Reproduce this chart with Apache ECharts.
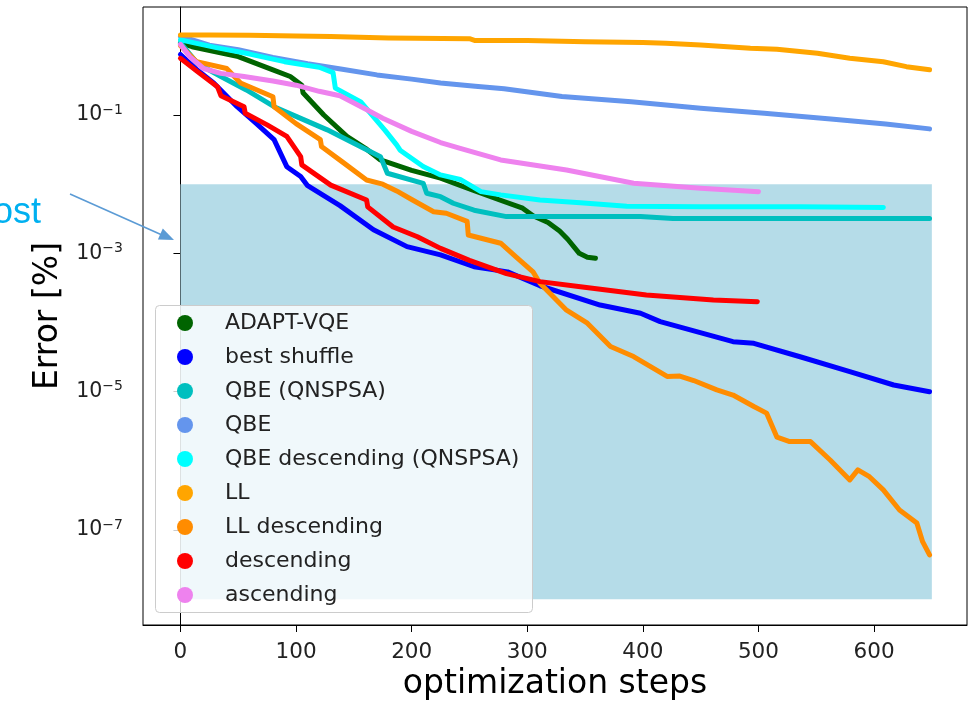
<!DOCTYPE html>
<html>
<head>
<meta charset="utf-8">
<title>Error vs optimization steps</title>
<script src="https://cdn.jsdelivr.net/npm/echarts@6/dist/echarts.min.js"></script>
<style>
  html, body { margin: 0; padding: 0; background: #fff; }
  #chart { width: 974px; height: 704px; }
</style>
</head>
<body>
<div id="chart"></div>
<script>
// values: [step, error %]
const adaptVqe = [[0,1.10],[10,0.97],[50,0.70],[80,0.45],[95,0.36],[105,0.27],[106,0.21],[124,0.10],[144,0.049],[160,0.033],[173,0.0224],[200,0.0158],[225,0.0122],[253,0.0082],[275,0.0060],[296,0.0045],[305,0.0035],[318,0.0028],[328,0.0021],[335,0.0016],[345,0.0010],[352,0.00088],[359,0.00085]];
const bestShuffle = [[0,0.75],[15,0.44],[29,0.287],[49,0.132],[65,0.077],[81,0.044],[87,0.027],[92,0.0179],[104,0.0129],[110,0.0095],[138,0.0049],[167,0.0022],[196,0.00125],[225,0.00095],[254,0.00064],[283,0.00054],[311,0.00034],[363,0.000179],[398,0.000136],[415,0.000103],[478,0.0000528],[496,0.00005],[536,0.000032],[579,0.0000195],[617,0.0000125],[648,0.00001]];
const qbeQnspsa = [[0,1.1],[15,0.55],[35,0.36],[57,0.23],[81,0.132],[101,0.094],[127,0.061],[150,0.039],[173,0.025],[179,0.0144],[210,0.0103],[213,0.0074],[225,0.0066],[236,0.0053],[254,0.0042],[282,0.0034],[328,0.0034],[398,0.0034],[426,0.0032],[648,0.0032]];
const qbe = [[0,1.38],[25,1.02],[50,0.88],[80,0.68],[110,0.55],[140,0.46],[170,0.38],[200,0.33],[225,0.29],[255,0.26],[280,0.24],[330,0.185],[390,0.156],[450,0.125],[505,0.106],[565,0.087],[610,0.074],[648,0.063]];
const qbeDescQnspsa = [[0,1.22],[30,0.95],[60,0.76],[90,0.59],[120,0.49],[132,0.41],[134,0.245],[156,0.155],[177,0.06],[187,0.037],[190,0.031],[210,0.018],[225,0.0136],[242,0.0117],[260,0.0078],[277,0.0070],[311,0.0059],[346,0.0054],[386,0.0048],[450,0.0047],[536,0.0047],[608,0.0046]];
const ll = [[0,1.44],[25,1.44],[60,1.42],[100,1.39],[130,1.37],[180,1.30],[250,1.27],[255,1.19],[300,1.19],[350,1.15],[400,1.12],[420,1.09],[450,1.03],[493,0.92],[516,0.89],[551,0.78],[579,0.66],[608,0.59],[628,0.50],[648,0.45]];
const llDescending = [[0,1.0],[14,0.59],[40,0.47],[52,0.29],[80,0.184],[81,0.132],[100,0.075],[121,0.044],[122,0.035],[140,0.021],[161,0.0115],[175,0.0100],[187,0.0080],[200,0.0060],[219,0.0040],[230,0.0038],[248,0.0029],[249,0.00184],[277,0.0014],[290,0.0009],[305,0.00054],[311,0.00037],[334,0.000151],[352,0.0000977],[372,0.0000449],[392,0.0000322],[421,0.0000166],[432,0.0000168],[444,0.0000145],[464,0.0000106],[478,0.00000895],[496,0.0000061],[507,0.0000049],[516,0.0000022],[527,0.0000019],[545,0.0000019],[562,0.00000103],[579,0.00000053],[586,0.00000074],[596,0.00000059],[608,0.00000038],[622,0.000000195],[637,0.000000126],[642,0.0000000678],[648,0.0000000436]];
const descending = [[0,0.66],[15,0.42],[32,0.257],[35,0.19],[55,0.132],[56,0.106],[75,0.072],[92,0.049],[104,0.025],[105,0.019],[130,0.0097],[161,0.0059],[162,0.0047],[184,0.0024],[205,0.00174],[225,0.00118],[250,0.00079],[282,0.00051],[311,0.00039],[346,0.00033],[403,0.00025],[461,0.000211],[499,0.0002]];
const ascending = [[0,1.05],[8,0.70],[20,0.47],[35,0.40],[55,0.36],[80,0.31],[100,0.27],[120,0.22],[138,0.19],[160,0.122],[175,0.09],[200,0.058],[225,0.040],[242,0.033],[277,0.0224],[334,0.016],[392,0.0103],[450,0.0087],[500,0.0078]];

const seriesNames = ['ADAPT-VQE', 'best shuffle', 'QBE (QNSPSA)', 'QBE', 'QBE descending (QNSPSA)', 'LL', 'LL descending', 'descending', 'ascending'];
const seriesData = [adaptVqe, bestShuffle, qbeQnspsa, qbe, qbeDescQnspsa, ll, llDescending, descending, ascending];
const seriesColors = ['#006400', '#0000ff', '#00bfbf', '#6495ed', '#00ffff', '#ffa500', '#ff8c00', '#ff0000', '#ee82ee'];

const xTicks = [0, 100, 200, 300, 400, 500, 600];
const yTicks = [1e-1, 1e-3, 1e-5, 1e-7];
// shaded target region
const boxSteps = [0, 650];
const boxErrors = [1e-8, 1e-2];

const font = 'DejaVu Sans';
const chart = echarts.init(document.getElementById('chart'));

const series = seriesNames.map((name, i) => {
    const s = {
        name: name,
        type: 'line',
        data: seriesData[i],
        color: seriesColors[i],
        showSymbol: false,
        symbol: 'circle',
        lineStyle: { width: 5, cap: 'round', join: 'round' },
        z: 2
    };
    if (i === 0) {
        s.markArea = {
            silent: true,
            itemStyle: { color: '#add8e6', opacity: 0.9 },
            data: [[{ xAxis: boxSteps[0], yAxis: boxErrors[0] }, { xAxis: boxSteps[1], yAxis: boxErrors[1] }]]
        };
    }
    return s;
});

const option = {
    animation: false,
    backgroundColor: '#fff',
    grid: {
        left: 143, top: 7, width: 824, height: 618,
        show: true, borderColor: '#000', borderWidth: 1,
        outerBoundsMode: 'none'
    },
    xAxis: {
        type: 'value',
        min: -32.4,
        max: 680.4,
        name: 'optimization steps',
        nameLocation: 'middle',
        nameGap: 43,
        nameTextStyle: { fontSize: 33, fontFamily: font, color: '#000' },
        axisLine: { lineStyle: { color: '#000', width: 1 } },
        axisTick: { customValues: xTicks, length: 7, lineStyle: { color: '#000' } },
        axisLabel: { customValues: xTicks, fontSize: 21.5, fontFamily: font, color: '#222', margin: 16 },
        splitLine: { show: false }
    },
    yAxis: {
        type: 'log',
        logBase: 10,
        min: Math.pow(10, -8.373),
        max: Math.pow(10, 0.5614),
        name: 'Error [%]',
        nameLocation: 'middle',
        nameGap: 78,
        nameTextStyle: { fontSize: 33, fontFamily: font, color: '#000' },
        axisLine: { show: true, lineStyle: { color: '#000', width: 1 } },
        axisTick: { customValues: yTicks, length: 7, lineStyle: { color: '#000' } },
        axisLabel: {
            customValues: yTicks,
            margin: 20,
            fontSize: 20.5,
            fontFamily: font,
            color: '#222',
            formatter: function (v) {
                const p = Math.round(Math.log10(v));
                return '{b|10}{e|' + (p < 0 ? '\u2212' : '') + Math.abs(p) + '}';
            },
            rich: {
                b: { fontSize: 20.5, lineHeight: 24, fontFamily: font, color: '#222' },
                e: { fontSize: 14, lineHeight: 18, verticalAlign: 'top', fontFamily: font, color: '#222' }
            }
        },
        splitLine: { show: false },
        minorTick: { show: false }
    },
    legend: {
        data: seriesNames,
        orient: 'vertical',
        left: 177,
        top: 312,
        padding: 0,
        itemGap: 12,
        itemWidth: 70,
        itemHeight: 16,
        icon: 'circle',
        z: 11,
        textStyle: { fontSize: 22, lineHeight: 22, fontFamily: font, color: '#222' }
    },
    graphic: [
        {
            type: 'rect', z: 10, silent: true,
            shape: { x: 155.5, y: 305.5, width: 377, height: 307, r: 4 },
            style: { fill: 'rgba(255,255,255,0.8)', stroke: '#cccccc', lineWidth: 1 }
        },
        {
            type: 'text', z: 10, silent: true,
            x: -7, y: 231,
            style: { text: 'ost', font: '36px "Liberation Sans"', fill: '#00b0f0', verticalAlign: 'bottom' }
        },
        {
            type: 'line', z: 10, silent: true,
            shape: { x1: 70, y1: 194, x2: 162, y2: 235 },
            style: { stroke: '#5b9bd5', lineWidth: 1.6 }
        },
        {
            type: 'polygon', z: 10, silent: true,
            shape: { points: [[174, 240], [157.9, 239.4], [162.8, 228.4]] },
            style: { fill: '#5b9bd5' }
        }
    ],
    series: series
};

chart.setOption(option);
</script>
</body>
</html>
